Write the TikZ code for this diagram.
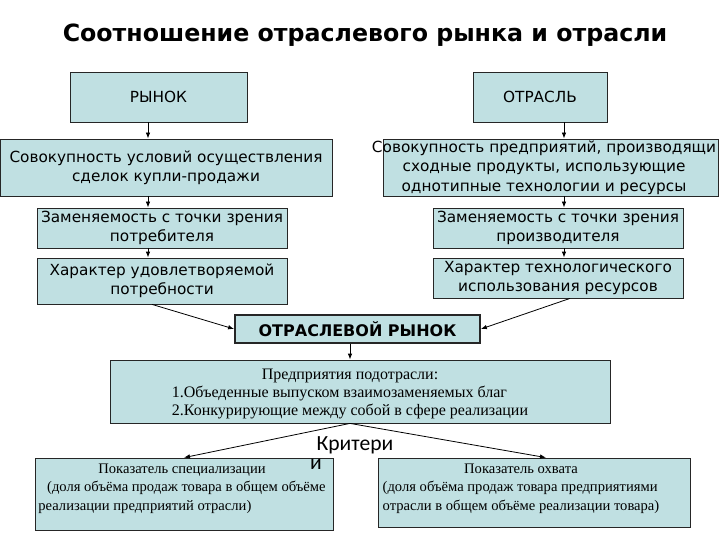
\documentclass[tikz,border=0pt]{standalone}
\usepackage{fontspec}
\setmainfont{Liberation Serif}
\setsansfont{DejaVu Sans}
\newfontfamily\kritfont{Carlito}
\usetikzlibrary{arrows.meta}
\definecolor{boxfill}{RGB}{192,224,226}
\tikzset{
    box/.style={draw=black!85, line width=0.8pt, fill=boxfill, inner sep=0pt},
    stxt/.style={font=\sffamily\fontsize{15.3}{19}\selectfont, align=center, inner sep=0pt},
    rtxt/.style={font=\rmfamily\fontsize{16}{18}\selectfont, inner sep=0pt},
    btxt/.style={font=\rmfamily\fontsize{14.6}{18.5}\selectfont, inner sep=0pt, anchor=north},
    arr/.style={-{Latex[length=6pt,width=4.5pt]}, line width=0.8pt}
}
\begin{document}
\begin{tikzpicture}[x=1pt, y=-1pt]
    \useasboundingbox (0,0) rectangle (720,540);

    % Заголовок
    \node[font=\sffamily\bfseries\fontsize{23.7}{28}\selectfont] (title) at (365,35) {Соотношение отраслевого рынка и отрасли};

    % Левая колонка (рынок)
    \node[box, stxt, minimum width=177, minimum height=50] (rynok) at (158.5,97) {РЫНОК};
    \node[box, stxt, minimum width=332, minimum height=57] (sov1) at (166,167.5) {Совокупность условий осуществления\\сделок купли-продажи};
    \node[box, stxt, minimum width=250, minimum height=40] (zam1) at (162,228) {Заменяемость с точки зрения\\потребителя};
    \node[box, stxt, minimum width=250, minimum height=46] (har1) at (162,281) {Характер удовлетворяемой\\потребности};

    % Правая колонка (отрасль)
    \node[box, stxt, minimum width=134, minimum height=50] (otrasl) at (540,97) {ОТРАСЛЬ};
    \node[box, minimum width=335, minimum height=57] (sov2) at (550.5,167.5) {};
    \node[stxt, font=\sffamily\fontsize{15.3}{19.5}\selectfont] (sov2t) at (544,167.5) {Совокупность предприятий, производящи\\сходные продукты, использующие\\однотипные технологии и ресурсы};
    \node[box, stxt, minimum width=250, minimum height=40] (zam2) at (558,228) {Заменяемость с точки зрения\\производителя};
    \node[box, stxt, minimum width=250, minimum height=40] (har2) at (558,278) {Характер технологического\\использования ресурсов};

    % Отраслевой рынок
    \node[box, line width=1.8pt, font=\sffamily\bfseries\fontsize{16}{18}\selectfont, minimum width=245, minimum height=28] (orynok) at (357.5,329) {ОТРАСЛЕВОЙ РЫНОК};
    \node[box, minimum width=500, minimum height=63] (pred) at (360,391.5) {};
    \node[rtxt] (predt) at (350,394) {\begin{tabular}{@{}l@{}}\multicolumn{1}{c}{Предприятия подотрасли:}\\1.Объеденные выпуском взаимозаменяемых благ\\2.Конкурирующие между собой в сфере реализации\end{tabular}};

    % Нижние блоки
    \node[box, minimum width=298, minimum height=72] (pok1) at (184,494) {};
    \node[btxt] (pok1t) at (182,460) {\begin{tabular}{@{}l@{}}\multicolumn{1}{c}{Показатель специализации}\\\hspace*{0.6em}(доля объёма продаж товара в общем объёме\\реализации предприятий отрасли)\end{tabular}};
    \node[box, minimum width=312, minimum height=69] (pok2) at (534,492.5) {};
    \node[btxt] (pok2t) at (521,460) {\begin{tabular}{@{}l@{}}\multicolumn{1}{c}{Показатель охвата}\\(доля объёма продаж товара предприятиями\\отрасли в общем объёме реализации товара)\end{tabular}};

    % Критерии
    \node[font=\kritfont\fontsize{21.6}{24}\selectfont, inner sep=0pt] (krit) at (355,445) {Критери};
    \node[font=\kritfont\fontsize{21.6}{24}\selectfont, inner sep=0pt] (kriti) at (316,464) {и};

    % Стрелки
    \coordinate (lcol) at (148,0);
    \coordinate (rcol) at (564,0);
    \draw[arr] (rynok.south -| lcol) -- (sov1.north -| lcol);
    \draw[arr] (sov1.south -| lcol) -- (zam1.north -| lcol);
    \draw[arr] (zam1.south -| lcol) -- (har1.north -| lcol);
    \draw[arr] (otrasl.south -| rcol) -- (sov2.north -| rcol);
    \draw[arr] (sov2.south -| rcol) -- (zam2.north -| rcol);
    \draw[arr] (zam2.south -| rcol) -- (har2.north -| rcol);
    \draw[arr] ([xshift=-10pt]har1.south) -- (orynok.west);
    \draw[arr] ([xshift=12pt]har2.south) -- (orynok.east);
    \draw[arr] (orynok.south -| predt) -- (pred.north -| predt);
    \draw[arr] (pred.south -| predt) -- (pok1.north);
    \draw[arr] (pred.south -| predt) -- ([xshift=12pt]pok2.north);
\end{tikzpicture}
\end{document}
